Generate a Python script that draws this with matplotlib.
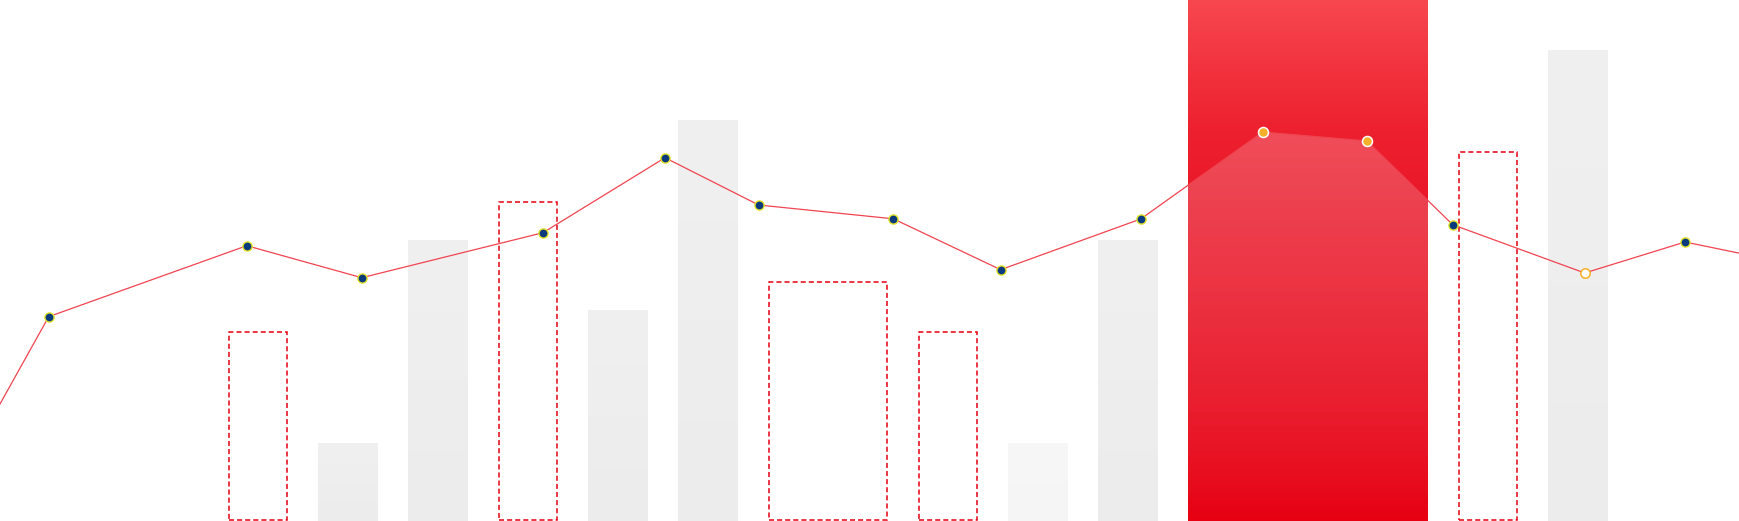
import numpy as np
import matplotlib
matplotlib.use("Agg")
import matplotlib.pyplot as plt
from matplotlib.colors import LinearSegmentedColormap
from matplotlib.patches import Rectangle
from matplotlib.path import Path

# ---- data ----
bar_kinds = ["dashed", "gray", "gray", "dashed", "gray", "gray", "dashed",
             "dashed", "light", "gray", "red", "dashed", "gray"]
bar_values = [190, 78, 281, 320, 211, 401, 240, 190, 78, 281, 521, 370, 471]
bar_spans = [1, 1, 1, 1, 1, 1, 2, 1, 1, 1, 4, 1, 1]

line_x = [0, 48.7, 246.8, 361.8, 543, 665, 758.7, 893.3, 1000.7, 1140.7,
          1262.7, 1367, 1452.7, 1584.7, 1685, 1740]
line_y = [117, 204.3, 275.3, 243.3, 288.3, 363.3, 316, 302.2, 251.3, 302,
          389, 380, 296.3, 248, 279, 267.7]
point_kinds = ["none", "navy", "navy", "navy", "navy", "navy", "navy", "navy",
               "navy", "navy", "orange", "orange", "navy", "hollow", "navy", "none"]

# ---- layout ----
W, H = 1740, 521
x0, unit, gap = 228, 60, 30

fig = plt.figure(figsize=(17.4, 5.21), dpi=100)
ax = fig.add_axes([0, 0, 1, 1])
ax.set_xlim(0, W)
ax.set_ylim(0, H)
ax.axis("off")

red_cmap = LinearSegmentedColormap.from_list(
    "r", [(0.0, "#e60012"), (0.6, "#ea1729"), (0.75, "#ed202f"), (1.0, "#f7474f")])
gray_cmap = LinearSegmentedColormap.from_list("g", ["#ececec", "#f0f0f0"])
light_cmap = LinearSegmentedColormap.from_list("l", ["#f5f5f5", "#f7f7f7"])

band = None
x = x0
for kind, val, span in zip(bar_kinds, bar_values, bar_spans):
    w = span * unit
    if kind == "dashed":
        ax.bar(x + 0.75, val - 1.5, width=w - 1.5, bottom=0.75, align="edge",
               fill=False, edgecolor="#e60012", linewidth=1.1,
               linestyle=(0, (3.3, 2.0)), zorder=2)
    else:
        cmap = {"gray": gray_cmap, "light": light_cmap, "red": red_cmap}[kind]
        grad = np.linspace(0, 1, 256).reshape(-1, 1)
        ax.imshow(grad, extent=[x, x + w, 0, val], origin="lower", cmap=cmap,
                  aspect="auto", zorder=1, interpolation="bicubic")
        if kind == "red":
            band = (x, w, val)
    x += w + gap

# light overlay (fading toward the bottom) under the line inside the red band
if band is not None:
    bx, bw, bh = band
    top = max(line_y)
    hh = np.linspace(0, 1, 256)
    rgba = np.ones((256, 1, 4))
    rgba[:, 0, 3] = 0.21 * hh ** 0.7
    im = ax.imshow(rgba, extent=[bx, bx + bw, 0, top], origin="lower",
                   aspect="auto", zorder=3, interpolation="bilinear")
    verts = [(line_x[0], 0)] + list(zip(line_x, line_y)) + [(line_x[-1], 0), (line_x[0], 0)]
    poly = Path(verts, closed=True)
    im.set_clip_path(poly, transform=ax.transData)

ax.plot(line_x, line_y, color="#f04450", linewidth=0.9, zorder=4,
        solid_joinstyle="round")

styles = {
    "navy": dict(mfc="#0a3a7e", mec="#e3e32a", ms=6.6, mew=1.0),
    "orange": dict(mfc="#f7b02a", mec="white", ms=7.2, mew=1.1),
    "hollow": dict(mfc="white", mec="#f7b02a", ms=6.8, mew=1.1),
}
for px, py, k in zip(line_x, line_y, point_kinds):
    if k in styles:
        ax.plot([px], [py], marker="o", linestyle="none", zorder=5, **styles[k])

ax.set_xlim(0, W)
ax.set_ylim(0, H)
fig.savefig("out.png", dpi=100)
